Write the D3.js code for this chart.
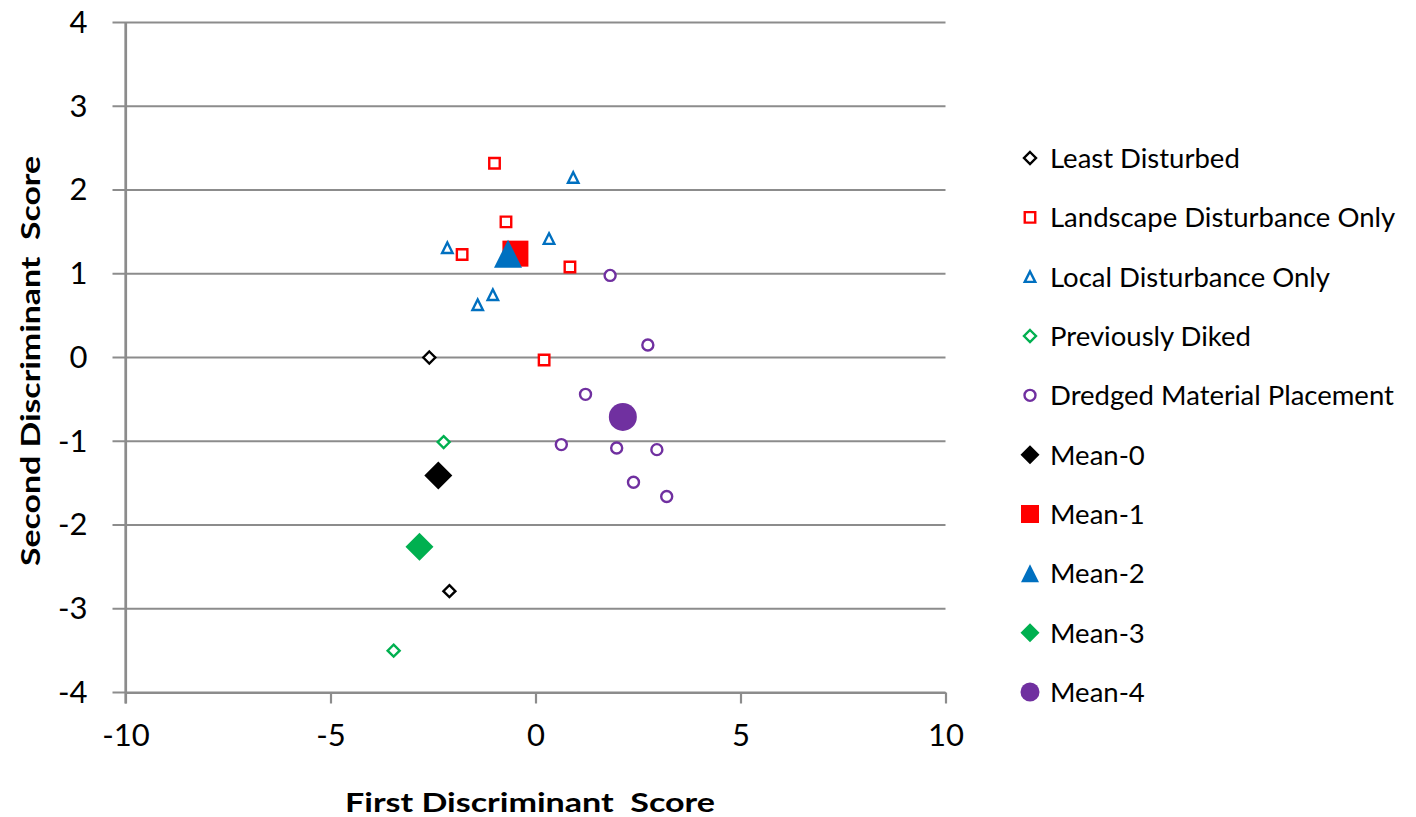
<!DOCTYPE html>
<html>
<head>
<meta charset="utf-8">
<script src="https://cdn.jsdelivr.net/npm/d3@7"></script>
<style>
  html, body { margin: 0; padding: 0; background: #fff; }
  svg { display: block; }
  text { font-family: Lato, "Open Sans", sans-serif; fill: #000; }
</style>
</head>
<body>
<svg id="chart" width="1416" height="817"></svg>
<script>
// Discriminant scores per site group: [first score, second score]
const leastDisturbed = [[-2.59, 0.00], [-2.10, -2.79]];
const landscapeOnly = [[-1.00, 2.32], [-0.72, 1.62], [-1.79, 1.23], [0.84, 1.08], [0.21, -0.03]];
const localOnly = [[0.92, 2.15], [0.33, 1.42], [-2.15, 1.31], [-1.04, 0.75], [-1.41, 0.63]];
const previouslyDiked = [[-2.24, -1.01], [-3.46, -3.50]];
const dredgedPlacement = [[1.82, 0.98], [2.74, 0.15], [1.22, -0.44], [0.63, -1.04],
                          [1.98, -1.08], [2.96, -1.10], [2.39, -1.49], [3.20, -1.66]];
// Group centroids
const mean0 = [[-2.37, -1.41]];
const mean1 = [[-0.49, 1.24]];
const mean2 = [[-0.67, 1.24]];
const mean3 = [[-2.83, -2.26]];
const mean4 = [[2.13, -0.71]];

const xTicks = [-10, -5, 0, 5, 10];
const yTicks = [-4, -3, -2, -1, 0, 1, 2, 3, 4];

// Marker shapes sized by their bounding width squared
const diamond = { draw(ctx, size) { const s = Math.sqrt(size) / 2;
  ctx.moveTo(0, -s); ctx.lineTo(s, 0); ctx.lineTo(0, s); ctx.lineTo(-s, 0); ctx.closePath(); } };
const square = { draw(ctx, size) { const s = Math.sqrt(size) / 2;
  ctx.moveTo(-s, -s); ctx.lineTo(s, -s); ctx.lineTo(s, s); ctx.lineTo(-s, s); ctx.closePath(); } };
const triangle = { draw(ctx, size) { const s = Math.sqrt(size) / 2;
  ctx.moveTo(0, -s); ctx.lineTo(s, s); ctx.lineTo(-s, s); ctx.closePath(); } };
const circle = { draw(ctx, size) { const r = Math.sqrt(size) / 2;
  ctx.moveTo(r, 0); ctx.arc(0, 0, r, 0, 2 * Math.PI); } };

const series = [
  { name: "Least Disturbed", data: leastDisturbed, shape: diamond, color: "#000000", filled: false, w: 12, lw: 12 },
  { name: "Landscape Disturbance Only", data: landscapeOnly, shape: square, color: "#FF0000", filled: false, w: 10.5, lw: 10.5 },
  { name: "Local Disturbance Only", data: localOnly, shape: triangle, color: "#0070C0", filled: false, w: 10.5, lw: 10.5 },
  { name: "Previously Diked", data: previouslyDiked, shape: diamond, color: "#00B050", filled: false, w: 12, lw: 12 },
  { name: "Dredged Material Placement", data: dredgedPlacement, shape: circle, color: "#7030A0", filled: false, w: 11, lw: 11 },
  { name: "Mean-0", data: mean0, shape: diamond, color: "#000000", filled: true, w: 28, lw: 19 },
  { name: "Mean-1", data: mean1, shape: square, color: "#FF0000", filled: true, w: 26, lw: 18 },
  { name: "Mean-2", data: mean2, shape: triangle, color: "#0070C0", filled: true, w: 28, lw: 18 },
  { name: "Mean-3", data: mean3, shape: diamond, color: "#00B050", filled: true, w: 28, lw: 19 },
  { name: "Mean-4", data: mean4, shape: circle, color: "#7030A0", filled: true, w: 28, lw: 19 }
];

const svg = d3.select("#chart");
const x = d3.scaleLinear().domain([-10, 10]).range([125.5, 945.5]);
const y = d3.scaleLinear().domain([-4, 4]).range([692.5, 22.5]);
const gridColor = "#8C8C8C";
const fmt = d => String(d);

// Horizontal gridlines (extend left past the axis like tick marks)
svg.append("g").selectAll("line").data(yTicks).join("line")
  .attr("x1", x(-10) - 13).attr("x2", x(10))
  .attr("y1", d => y(d)).attr("y2", d => y(d))
  .attr("stroke", gridColor).attr("stroke-width", 2.2);

// X axis
const xAxis = svg.append("g").attr("transform", `translate(0,${y(-4)})`)
  .call(d3.axisBottom(x).tickValues(xTicks).tickFormat(fmt).tickSize(11).tickPadding(30).tickSizeOuter(0));
xAxis.select(".domain").attr("stroke", gridColor).attr("stroke-width", 2.2);
xAxis.selectAll(".tick line").attr("stroke", gridColor).attr("stroke-width", 2.2);
xAxis.selectAll(".tick text").attr("font-size", 31).attr("font-family", "Lato, sans-serif").attr("fill", "#000")
  .attr("dy", "0.4em");

// Y axis
const yAxis = svg.append("g").attr("transform", `translate(${x(-10)},0)`)
  .call(d3.axisLeft(y).tickValues(yTicks).tickFormat(fmt).tickSize(0).tickPadding(38).tickSizeOuter(0));
yAxis.select(".domain").attr("stroke", gridColor).attr("stroke-width", 2.2);
yAxis.selectAll(".tick text").attr("font-size", 31).attr("font-family", "Lato, sans-serif").attr("fill", "#000");
// Y axis line runs from the top gridline down past the bottom tick
svg.append("line").attr("x1", x(-10)).attr("x2", x(-10)).attr("y1", y(4)).attr("y2", y(-4) + 11)
  .attr("stroke", gridColor).attr("stroke-width", 2.2);

// Axis titles
svg.append("text").attr("x", 530).attr("y", 812).attr("text-anchor", "middle")
  .attr("font-family", "'Open Sans', sans-serif")
  .attr("font-size", 27).attr("font-weight", "bold").attr("xml:space", "preserve")
  .attr("textLength", 370).attr("lengthAdjust", "spacingAndGlyphs")
  .text("First Discriminant  Score");
svg.append("text").attr("transform", `translate(40,361) rotate(-90)`).attr("text-anchor", "middle")
  .attr("font-family", "'Open Sans', sans-serif")
  .attr("font-size", 27).attr("font-weight", "bold").attr("xml:space", "preserve")
  .attr("textLength", 410).attr("lengthAdjust", "spacingAndGlyphs")
  .text("Second Discriminant  Score");

// Points
const sym = d3.symbol();
series.forEach(s => {
  svg.append("g").selectAll("path").data(s.data).join("path")
    .attr("transform", d => `translate(${x(d[0])},${y(d[1])})`)
    .attr("d", sym.type(s.shape).size(s.w * s.w)())
    .attr("fill", s.filled ? s.color : "#fff")
    .attr("stroke", s.filled ? "none" : s.color)
    .attr("stroke-width", 2.4);
});

// Legend
const legend = svg.append("g");
const rowY = d3.scaleLinear().domain([0, series.length - 1]).range([158, 692]);
series.forEach((s, i) => {
  const g = legend.append("g").attr("transform", `translate(1030,${rowY(i)})`);
  g.append("path").attr("d", sym.type(s.shape).size(s.lw * s.lw)())
    .attr("fill", s.filled ? s.color : "#fff")
    .attr("stroke", s.filled ? "none" : s.color)
    .attr("stroke-width", 2.4);
  g.append("text").attr("x", 20).attr("dy", "0.36em").attr("font-size", 27.5).text(s.name);
});
</script>
</body>
</html>
